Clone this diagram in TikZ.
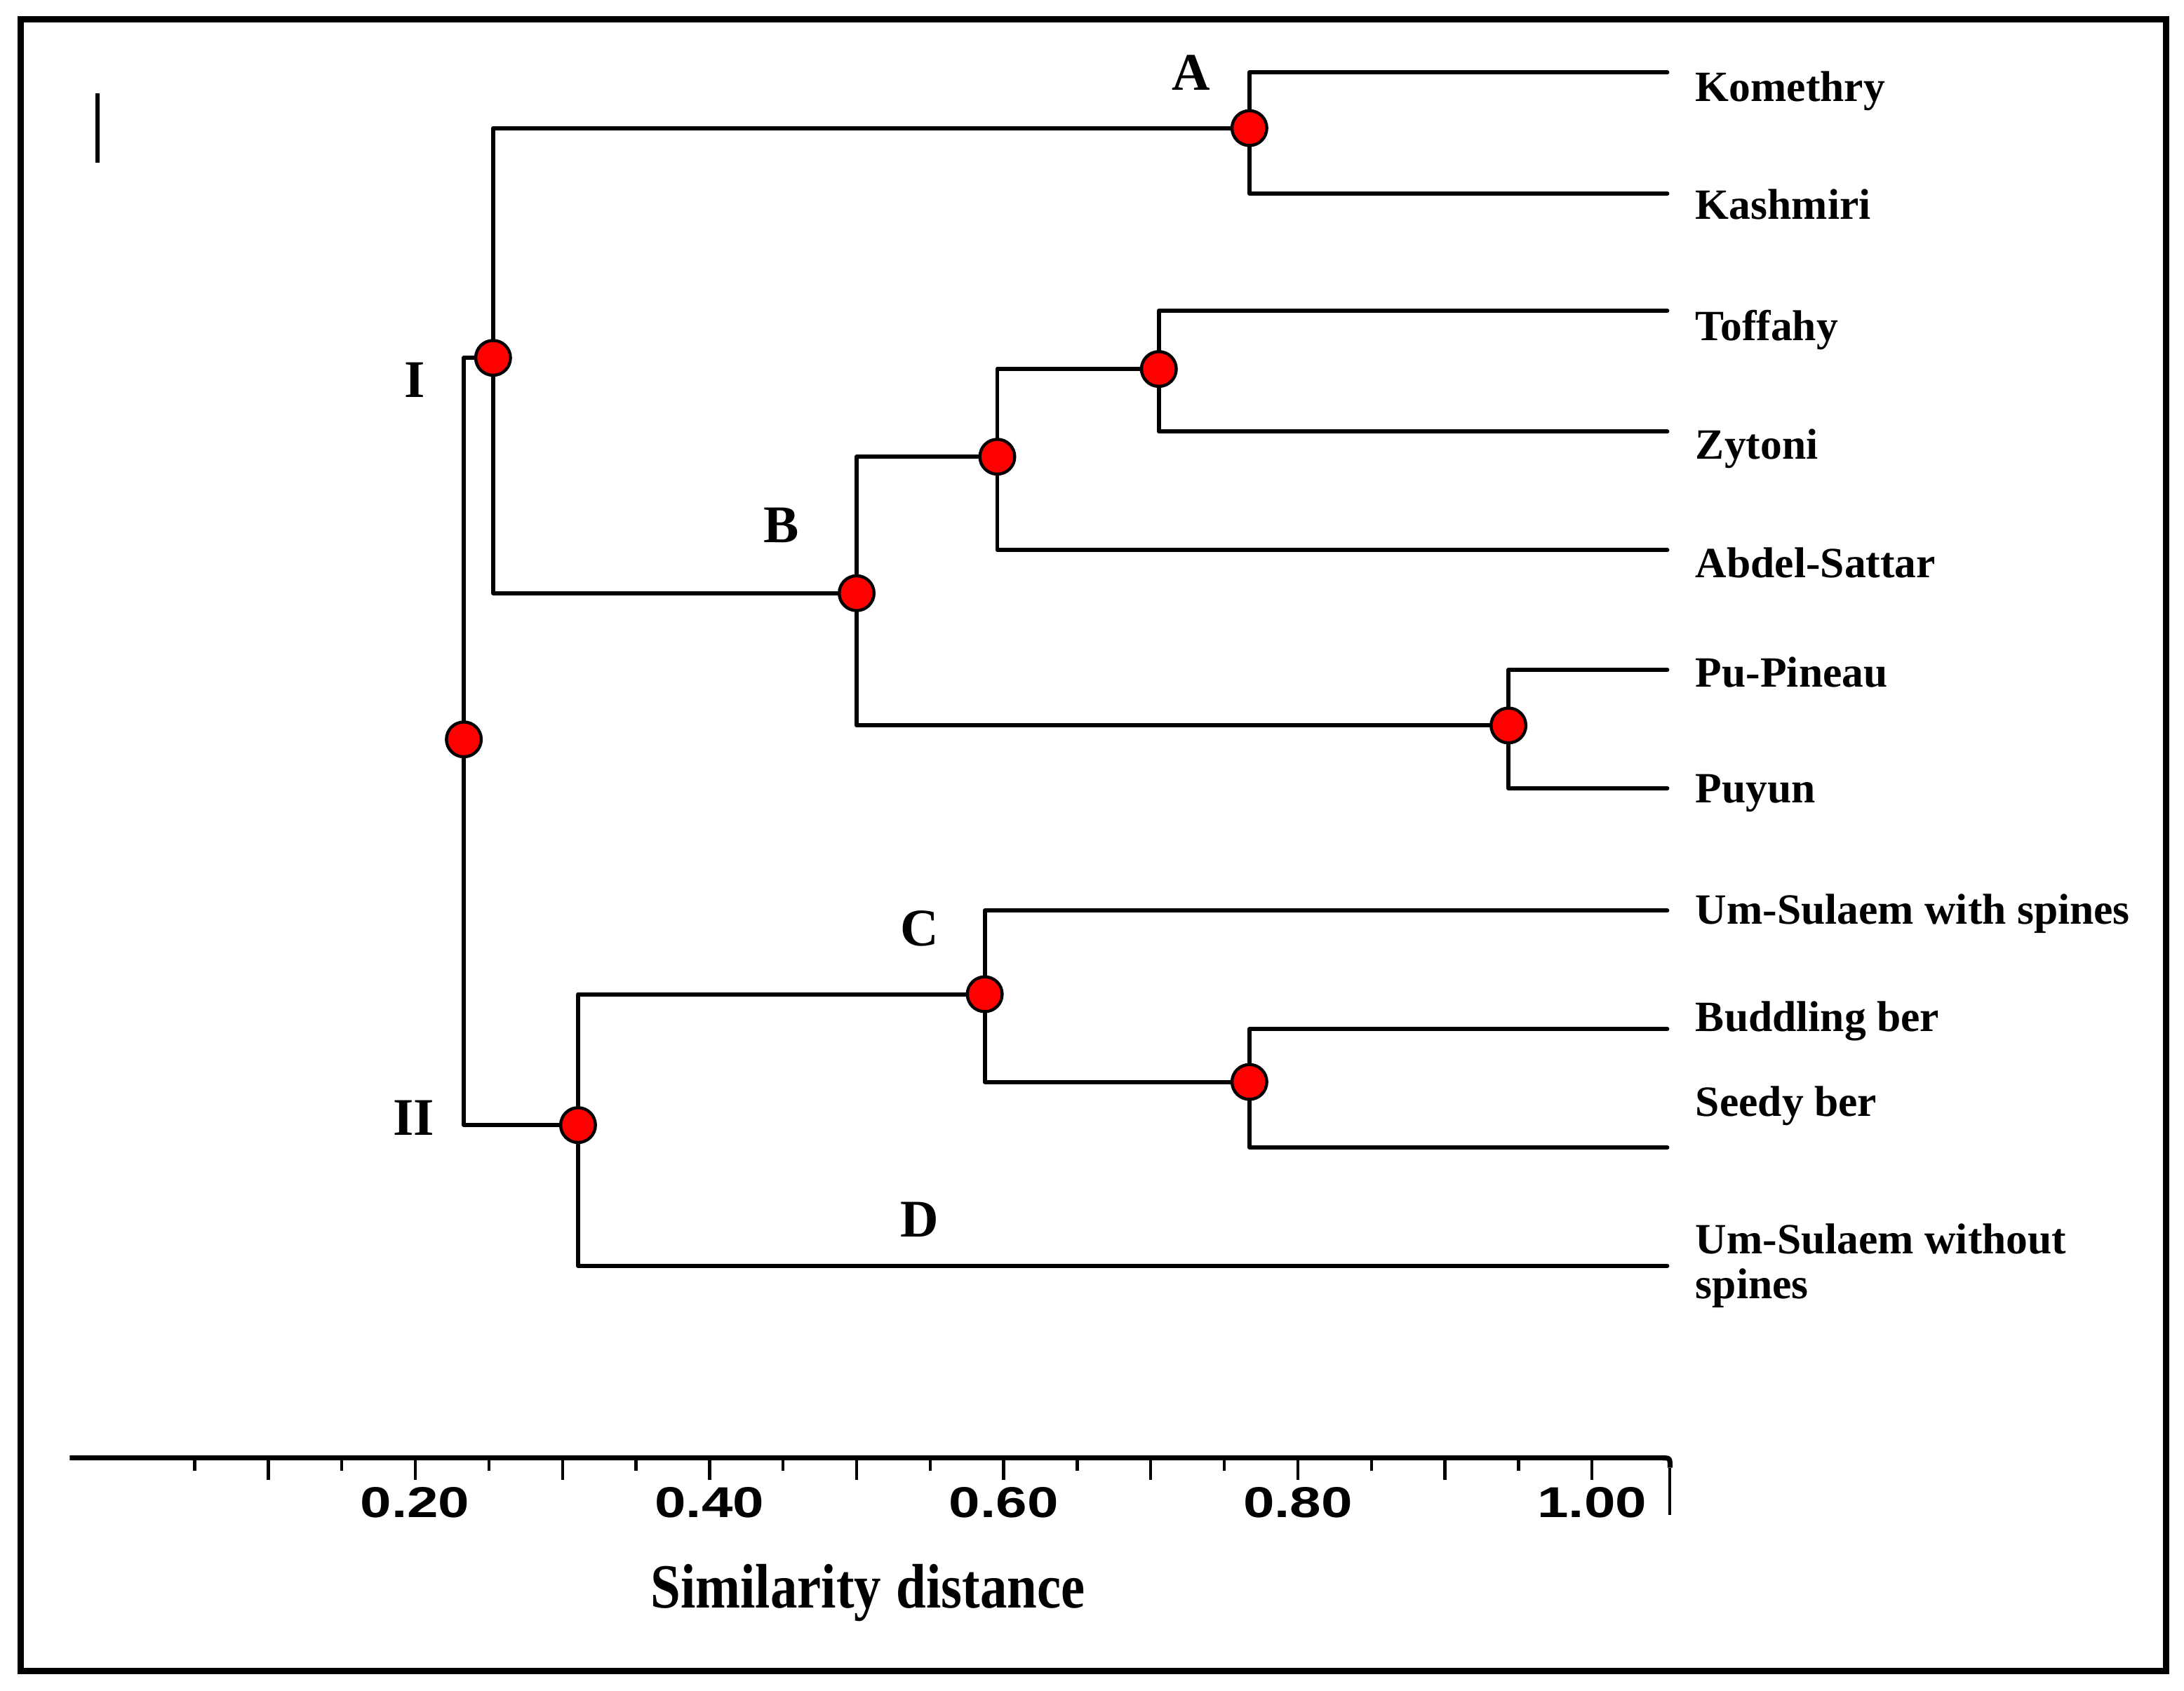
\documentclass[tikz,border=0pt]{standalone}
\usepackage{fontspec}
\usepackage{graphicx}
\setmainfont{Liberation Serif}
\newfontfamily\axfont{Liberation Sans}
\begin{document}
\begin{tikzpicture}[x=0.5pt,y=-0.5pt,
  br/.style={line width=1.5pt, line cap=round, line join=round},
  dot/.style={circle, draw=black, line width=1.1pt, fill=red, minimum size=12.5pt, inner sep=0pt},
  leaf/.style={anchor=mid west, font=\fontsize{15.5}{17}\selectfont\bfseries, inner sep=0pt, align=left},
  grp/.style={font=\fontsize{19}{22}\selectfont\bfseries, inner sep=0pt},
  ticklab/.style={font=\axfont\bfseries\fontsize{15.5}{18}\selectfont, inner sep=0pt},
  tick/.style={line width=1.1pt}]
\useasboundingbox (0,0) rectangle (1568,1214);
\draw[line width=2.2pt] (15,14) rectangle (1555,1200);
% small mark
\draw[line width=1.3pt] (70,67) -- (70,117);

% internal nodes
\node[dot] (nA)   at (897,92)  {};
\node[dot] (nTZ)  at (832,265) {};
\node[dot] (nTZA) at (716,328) {};
\node[dot] (nB)   at (615,426) {};
\node[dot] (nPu)  at (1083,521) {};
\node[dot] (nI)   at (354,257) {};
\node[dot] (nR)   at (333,531) {};
\node[dot] (nII)  at (415,808) {};
\node[dot] (nC)   at (707,714) {};
\node[dot] (nBS)  at (897,777) {};

% leaf ends
\coordinate (kom) at (1197,52);
\coordinate (kas) at (1197,139);
\coordinate (tof) at (1197,223);
\coordinate (zyt) at (1197,310);
\coordinate (abd) at (1197,395);
\coordinate (pup) at (1197,481);
\coordinate (puy) at (1197,566);
\coordinate (usw) at (1197,654);
\coordinate (bud) at (1197,739);
\coordinate (sed) at (1197,824);
\coordinate (uso) at (1197,909);

% branches
\draw[br] (kom) -| (nA);
\draw[br] (kas) -| (nA);
\draw[br] (nA) -| (nI);
\draw[br] (tof) -| (nTZ);
\draw[br] (zyt) -| (nTZ);
\draw[br] (nTZA) |- (nTZ);
\draw[br] (nTZA) |- (abd);
\draw[br] (nB) |- (nTZA);
\draw[br] (nB) |- (nPu);
\draw[br] (pup) -| (nPu);
\draw[br] (puy) -| (nPu);
\draw[br] (nB) -| (nI);
\draw[br] (nI) -| (nR);
\draw[br] (nR) |- (nII);
\draw[br] (nII) |- (nC);
\draw[br] (nII) |- (uso);
\draw[br] (nC) |- (usw);
\draw[br] (nC) |- (nBS);
\draw[br] (nBS) |- (bud);
\draw[br] (nBS) |- (sed);

% leaf labels
\node[leaf] (lkom) at (1217,68)  {Komethry};
\node[leaf] (lkas) at (1217,153) {Kashmiri};
\node[leaf] (ltof) at (1217,240) {Toffahy};
\node[leaf] (lzyt) at (1217,325) {Zytoni};
\node[leaf] (labd) at (1217,410) {Abdel-Sattar};
\node[leaf] (lpup) at (1217,489) {Pu-Pineau};
\node[leaf] (lpuy) at (1217,572) {Puyun};
\node[leaf] (lusw) at (1217,659) {Um-Sulaem with spines};
\node[leaf] (lbud) at (1217,736) {Buddling ber};
\node[leaf] (lsed) at (1217,797) {Seedy ber};
\node[leaf, anchor=west] (luso) at (1217,909) {Um-Sulaem without\\[-1pt]spines};

% group labels
\node[grp] (gA)  at (855,52)  {A};
\node[grp] (gB)  at (561,377) {B};
\node[grp] (gC)  at (660,667) {C};
\node[grp] (gD)  at (660,876) {D};
\node[grp] (gI)  at (298,273) {I};
\node[grp] (gII) at (297,803) {II};

% axis
\draw[line width=1.8pt] (50,1047) -- (1193,1047) .. controls (1199,1047) .. (1199,1054);
\draw[line width=1pt] (1199,1054) -- (1199,1088);
\foreach \i in {1,...,20}{
  \pgfmathsetmacro\tx{87+52.8*\i}
  \pgfmathsetmacro\tl{ifthenelse(mod(\i,2)==0,16,9)}
  \draw[tick] (\tx,1047) -- (\tx,1047+\tl);
}
\node[ticklab] (t20) at (298,1079)   {\scalebox{1.3}[1]{0.20}};
\node[ticklab] (t40) at (509.4,1079) {\scalebox{1.3}[1]{0.40}};
\node[ticklab] (t60) at (720.6,1079) {\scalebox{1.3}[1]{0.60}};
\node[ticklab] (t80) at (931.8,1079) {\scalebox{1.3}[1]{0.80}};
\node[ticklab] (t100) at (1143,1079) {\scalebox{1.3}[1]{1.00}};
\node[inner sep=0pt] (xt) at (623,1144) {\fontsize{21.5}{24}\selectfont\bfseries\scalebox{0.9}[1.05]{Similarity\hspace{6pt}distance}};
\end{tikzpicture}
\end{document}
